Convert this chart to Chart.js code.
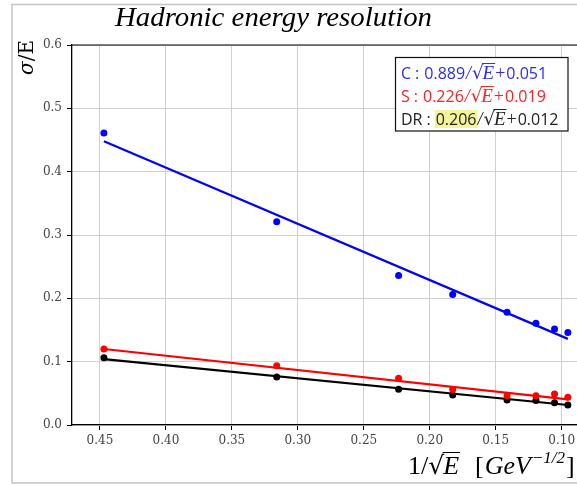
<!DOCTYPE html>
<html><head><meta charset="utf-8">
<script src="https://cdn.jsdelivr.net/npm/chart.js@4.4.1/dist/chart.umd.min.js"></script>
<style>html,body{margin:0;padding:0;overflow:hidden;background:#fff;width:577px;height:486px}
#wrap{width:600px;height:486px}</style></head>
<body><div id="wrap"><canvas id="c" width="600" height="486"></canvas></div>
<script>
// 1/sqrt(E) positions of the measurements
const xValues = [0.447, 0.316, 0.2236, 0.1826, 0.1414, 0.1195, 0.1054, 0.0953];
// sigma/E for each channel
const cValues  = [0.461, 0.321, 0.236, 0.206, 0.178, 0.1605, 0.1516, 0.146];
const sValues  = [0.120, 0.0937, 0.0737, 0.056, 0.046, 0.046, 0.049, 0.044];
const drValues = [0.106, 0.0758, 0.0563, 0.0474, 0.0395, 0.0385, 0.035, 0.0316];
// fit-line end points
const fitX  = [0.447, 0.0953];
const cFit  = [0.448, 0.136];
const sFit  = [0.120, 0.0405];
const drFit = [0.104, 0.0316];
// ticks
const xTicks = [0.45, 0.40, 0.35, 0.30, 0.25, 0.20, 0.15, 0.10];
const yTicks = [0.0, 0.1, 0.2, 0.3, 0.4, 0.5, 0.6];
// legend
const legendNames  = ['C', 'S', 'DR'];
const legendCoefs  = ['0.889', '0.226', '0.206'];
const legendConsts = ['0.051', '0.019', '0.012'];
const seriesColors = ['#0000ff', '#ff0000', '#000000'];
const legendTextColors = ['#2a2aff', '#ff2020', '#222222'];
const titleText = 'Hadronic energy resolution';

const pts = (xs, ys) => xs.map((x, i) => ({x: x, y: ys[i]}));

const frame = {
  id: 'frame',
  beforeDraw(chart) {
    const ctx = chart.ctx;
    ctx.save();
    ctx.fillStyle = '#fff';
    ctx.fillRect(0, 0, chart.width, chart.height);
    ctx.strokeStyle = '#c4c4c4';
    ctx.lineWidth = 1.5;
    ctx.beginPath();
    ctx.moveTo(chart.width, 4.5); ctx.lineTo(12, 4.5); ctx.lineTo(12, 483); ctx.lineTo(chart.width, 483);
    ctx.stroke();
    ctx.restore();
  }
};

function drawSqrtE(ctx, x, base, size, color) {
  ctx.font = size + 'px "DejaVu Serif"';
  ctx.fillStyle = color;
  ctx.fillText('\u221A', x, base);
  const rw = ctx.measureText('\u221A').width;
  ctx.font = 'italic ' + (size + 1) + 'px "Liberation Serif"';
  const ex = x + rw - 1;
  ctx.fillText('E', ex, base);
  const ew = ctx.measureText('E').width;
  ctx.strokeStyle = color;
  ctx.lineWidth = 1;
  ctx.beginPath();
  const top = base - size * 0.86;
  ctx.moveTo(x + rw - 1.5, top); ctx.lineTo(ex + ew + 1, top);
  ctx.stroke();
  return ex + ew;
}

const overlay = {
  id: 'overlay',
  afterDraw(chart) {
    const ctx = chart.ctx;
    const a = chart.chartArea;
    ctx.save();
    // top spine
    ctx.strokeStyle = '#000'; ctx.lineWidth = 1.2;
    ctx.beginPath(); ctx.moveTo(a.left, a.top); ctx.lineTo(a.right, a.top); ctx.stroke();

    // title
    ctx.fillStyle = '#000';
    ctx.textBaseline = 'alphabetic';
    ctx.textAlign = 'left';
    ctx.font = 'italic 28px "Liberation Serif"';
    const tw = ctx.measureText(titleText).width;
    ctx.save();
    ctx.translate(115, 26);
    ctx.scale(317 / tw, 1);
    ctx.fillText(titleText, 0, 0);
    ctx.restore();

    // y title
    ctx.save();
    ctx.translate(33, 75);
    ctx.rotate(-Math.PI / 2);
    ctx.font = 'italic 20px "DejaVu Serif"';
    ctx.fillText('\u03C3', 0, 0);
    const sw = ctx.measureText('\u03C3').width;
    ctx.font = '20px "DejaVu Serif"';
    ctx.fillText('/E', sw, 0);
    ctx.restore();

    // x title
    let xx = 408; const xb = 474;
    ctx.font = '26px "Liberation Serif"';
    ctx.fillText('1/', xx, xb); xx += ctx.measureText('1/').width;
    xx = drawSqrtE(ctx, xx, xb, 25, '#000');
    xx += 16;
    ctx.font = '26px "Liberation Serif"';
    ctx.fillText('[', xx, xb); xx += ctx.measureText('[').width + 1;
    ctx.font = 'italic 26px "Liberation Serif"';
    ctx.fillText('GeV', xx, xb); xx += ctx.measureText('GeV').width + 1;
    ctx.font = 'italic 17px "Liberation Serif"';
    ctx.fillText('\u22121/2', xx, xb - 11); xx += ctx.measureText('\u22121/2').width + 1;
    ctx.font = '26px "Liberation Serif"';
    ctx.fillText(']', xx, xb);

    // legend box
    ctx.fillStyle = '#fff';
    ctx.fillRect(395, 57, 173, 74);
    ctx.strokeStyle = '#111'; ctx.lineWidth = 1.2;
    ctx.strokeRect(395.5, 57.5, 172.5, 73.5);
    for (let i = 0; i < legendNames.length; i++) {
      const col = legendTextColors[i];
      const base = 79 + 23 * i;
      let lx = 401;
      ctx.font = '16px "Open Sans"';
      ctx.fillStyle = col;
      ctx.fillText(legendNames[i], lx, base); lx += ctx.measureText(legendNames[i]).width + 4;
      ctx.fillText(':', lx, base); lx += ctx.measureText(':').width + 5;
      const cw = ctx.measureText(legendCoefs[i]).width;
      if (i === 2) {
        ctx.fillStyle = '#f4f49a';
        ctx.fillRect(lx - 1, base - 15, cw + 2, 18);
        ctx.fillStyle = col;
      }
      ctx.fillText(legendCoefs[i], lx, base); lx += cw + 1;
      ctx.font = 'italic 18px "Liberation Serif"';
      ctx.fillText('/', lx, base); lx += ctx.measureText('/').width + 1;
      lx = drawSqrtE(ctx, lx, base, 18, col);
      ctx.font = '18px "Liberation Serif"';
      ctx.fillStyle = col;
      lx += 1;
      ctx.fillText('+', lx, base); lx += ctx.measureText('+').width + 1;
      ctx.font = '16px "Open Sans"';
      ctx.fillText(legendConsts[i], lx, base);
    }
    ctx.restore();
  }
};

const scatterDs = (vals, col) => ({
  type: 'scatter', data: pts(xValues, vals), showLine: false,
  backgroundColor: col, borderColor: col, pointRadius: 3.5, pointHoverRadius: 3.5, borderWidth: 0, order: 0
});
const lineDs = (vals, col) => ({
  type: 'line', data: pts(fitX, vals), showLine: true, borderColor: col, backgroundColor: col,
  borderWidth: 2.2, pointRadius: 0, fill: false, tension: 0, order: 1
});

new Chart(document.getElementById('c'), {
  type: 'scatter',
  data: { datasets: [
    scatterDs(cValues, seriesColors[0]), scatterDs(sValues, seriesColors[1]), scatterDs(drValues, seriesColors[2]),
    lineDs(cFit, seriesColors[0]), lineDs(sFit, seriesColors[1]), lineDs(drFit, seriesColors[2])
  ]},
  options: {
    responsive: false, animation: false, devicePixelRatio: 1,
    layout: { padding: { top: 45, right: 20, left: 0, bottom: 0 } },
    plugins: { legend: { display: false }, tooltip: { enabled: false }, title: { display: false } },
    scales: {
      x: {
        type: 'linear', reverse: true, min: 0.0861, max: 0.4712,
        afterBuildTicks: s => { s.ticks = xTicks.map(v => ({ value: v })); },
        afterFit: s => { s.height = 61; },
        grid: { color: '#cfcfcf', lineWidth: 1, tickLength: 5, tickColor: '#000', tickWidth: 1 },
        border: { color: '#000', width: 1.3 },
        ticks: { font: { family: 'DejaVu Serif', size: 12 }, color: '#444', padding: 4, maxRotation: 0,
                 callback: v => Number(v).toFixed(2) }
      },
      y: {
        type: 'linear', min: 0, max: 0.6,
        afterBuildTicks: s => { s.ticks = yTicks.map(v => ({ value: v })); },
        afterFit: s => { s.width = 72; },
        grid: { color: '#cfcfcf', lineWidth: 1, tickLength: 5, tickColor: '#000', tickWidth: 1 },
        border: { color: '#000', width: 1.3 },
        ticks: { font: { family: 'DejaVu Serif', size: 12 }, color: '#444', padding: 5,
                 callback: v => Number(v).toFixed(1) }
      }
    }
  },
  plugins: [frame, overlay]
});
</script>
</body></html>
